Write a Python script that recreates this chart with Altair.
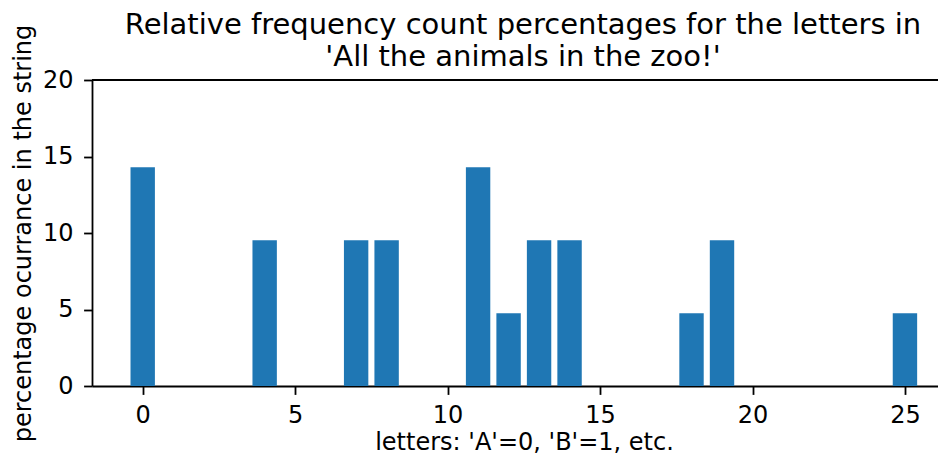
import altair as alt
import pandas as pd

# letter index ('A'=0 ... 'Z'=25) and percentage occurrence
letter_index = list(range(26))
percentages = [14.29, 0, 0, 0, 9.52, 0, 0, 9.52, 9.52, 0, 0, 14.29, 4.76,
               9.52, 9.52, 0, 0, 0, 4.76, 9.52, 0, 0, 0, 0, 0, 4.76]
x_ticks = [0, 5, 10, 15, 20, 25]
y_ticks = [0, 5, 10, 15, 20]
title_lines = ["Relative frequency count percentages for the letters in",
               "'All the animals in the zoo!'"]

df = pd.DataFrame({"letter": letter_index, "pct": percentages})
df = df[df["pct"] > 0]

FONT = "DejaVu Sans"
W, H = 846, 306

x_scale = alt.Scale(domain=[-1.663, 26.084], nice=False, zero=False)
y_scale = alt.Scale(domain=[0, 20], nice=False)

bars = alt.Chart(df).transform_calculate(
    x0="datum.letter - 0.4", x1="datum.letter + 0.4"
).mark_rect(color="#1f77b4").encode(
    x=alt.X("x0:Q", scale=x_scale,
            axis=alt.Axis(values=x_ticks, title="letters: 'A'=0, 'B'=1, etc.",
                          grid=False, domainColor="#000", domainWidth=1.8,
                          tickColor="#000", tickWidth=1.8, tickSize=8.4,
                          labelFontSize=24, labelFont=FONT, labelColor="#000",
                          labelPadding=9, labelFlush=False, labelBaseline="top",
                          titleFont=FONT, titleFontSize=24, titleFontWeight="normal",
                          titleColor="#000", titleX=432, titleY=63,
                          titleBaseline="alphabetic", titleAlign="center")),
    x2="x1:Q",
    y=alt.Y("pct:Q", scale=y_scale,
            axis=alt.Axis(values=y_ticks, title="percentage ocurrance in the string",
                          grid=False, domainColor="#000", domainWidth=1.8,
                          tickColor="#000", tickWidth=1.8, tickSize=8.4,
                          labelFontSize=24, labelFont=FONT, labelColor="#000",
                          labelPadding=10.5, labelFlush=False,
                          titleFont=FONT, titleFontSize=24, titleFontWeight="normal",
                          titleColor="#000", titleX=-61.5, titleY=153,
                          titleAngle=270, titleBaseline="alphabetic",
                          titleAlign="center")),
)

top_spine = alt.Chart(pd.DataFrame({"v": [20]})).mark_rule(
    color="#000", strokeWidth=1.8
).encode(y=alt.Y("v:Q", scale=y_scale))

title_text = alt.Chart(pd.DataFrame({"t": [0]})).mark_text(
    text=title_lines, font=FONT, fontSize=29, color="#000",
    align="center", baseline="top", lineHeight=32,
).encode(x=alt.value(431), y=alt.value(-69))

chart = alt.layer(bars, top_spine, title_text).properties(
    width=W, height=H,
    autosize=alt.AutoSizeParams(type="none"),
    padding={"left": 84, "top": 72, "right": 0, "bottom": 68},
).configure_view(stroke=None)

chart.save("out.html", embed_options={"renderer": "svg", "actions": False})
